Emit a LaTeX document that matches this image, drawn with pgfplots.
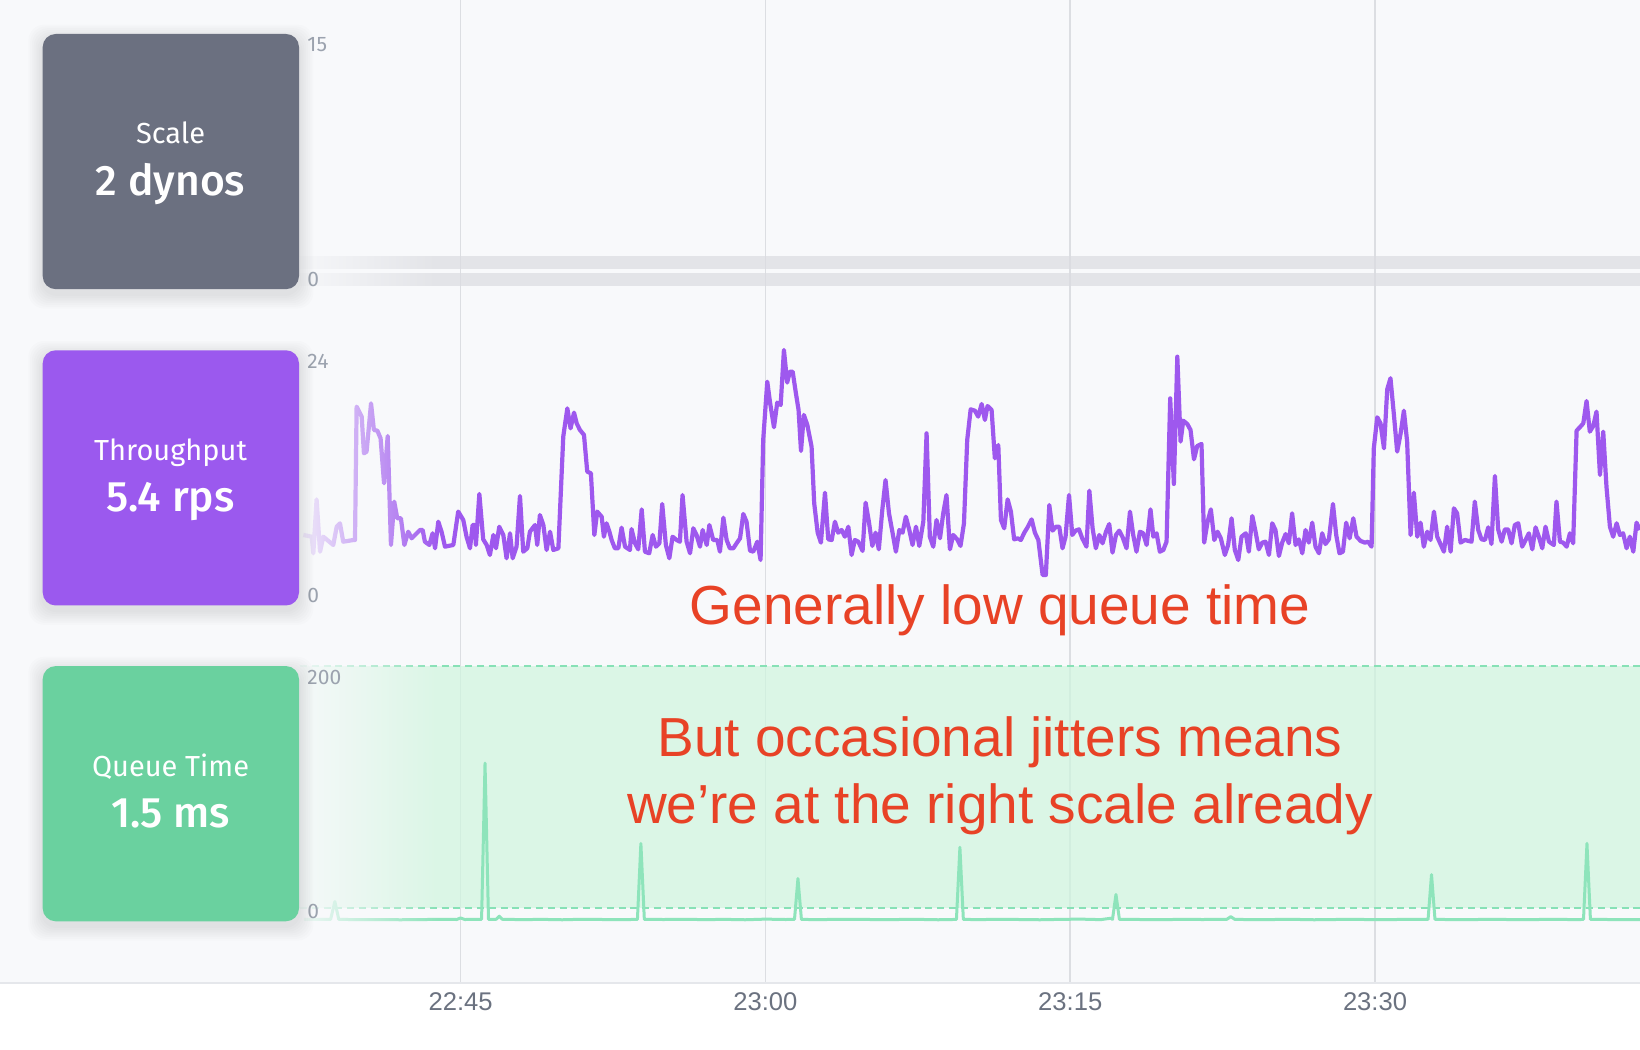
\documentclass[border=0pt]{standalone}
\usepackage{pgfplots}
\pgfplotsset{compat=1.18}
\usepackage{fontspec}
\setmainfont{Liberation Sans}
\newfontfamily\cardfont{Fira Sans}[BoldFont={Fira Sans Medium}]
\usetikzlibrary{fadings}

\definecolor{bg}{RGB}{248,249,251}
\definecolor{gridc}{RGB}{220,222,226}
\definecolor{basec}{RGB}{229,231,235}
\definecolor{tickc}{RGB}{107,114,128}
\definecolor{labc}{RGB}{156,163,175}
\definecolor{band}{RGB}{219,220,225}
\definecolor{purp}{RGB}{158,88,238}
\definecolor{qline}{RGB}{142,228,187}
\definecolor{qfill}{RGB}{207,246,222}
\definecolor{qdash}{RGB}{135,225,182}
\definecolor{cardgray}{RGB}{107,112,128}
\definecolor{cardpurp}{RGB}{155,89,238}
\definecolor{cardgreen}{RGB}{106,209,159}
\definecolor{annot}{RGB}{232,66,38}

\tikzfading[name=fadeR, left color=transparent!8, right color=transparent!100]

\pgfplotsset{
  panel/.style={scale only axis, width=820pt, height=127.6pt,
    xmin=22.33, xmax=103.04, axis lines=none, ticks=none,
    clip=false, anchor=south west},
}
\tikzset{ylab/.style={inner sep=0pt, text=labc, font=\cardfont\fontsize{10.5}{12}\selectfont}}

% card with a soft shadow: colour, bottom, top
\newcommand\card[3]{%
  \foreach \i in {1,...,8}{%
    \fill[black, opacity=0.012, rounded corners=8pt]
      ({21.35pt-\i*0.9pt},{#2-2.5pt-\i*0.9pt}) rectangle ({149.5pt+\i*0.9pt},{#3-2.5pt+\i*0.9pt});}
  \fill[#1, rounded corners=6.5pt] (21.35pt,#2) rectangle (149.5pt,#3);}

\begin{document}
\begin{tikzpicture}
\path[use as bounding box] (0,0) rectangle (820pt,525pt);
\fill[white] (0,0) rectangle (820pt,525pt);
\fill[bg] (0,33.5pt) rectangle (820pt,525pt);

% time axis with the grid
\begin{axis}[scale only axis, width=820pt, height=491.5pt,
    at={(0pt,33.5pt)}, anchor=south west,
    xmin=22.33, xmax=103.04, ymin=0, ymax=1,
    axis y line=none, axis x line*=bottom,
    x axis line style={draw=basec, line width=1pt, -},
    xtick={45,60,75,90},
    xticklabels={22:45,23:00,23:15,23:30},
    xmajorgrids, grid style={gridc, line width=0.75pt},
    major tick length=0pt,
    xticklabel style={font=\fontsize{12.8}{14}\selectfont, text=tickc,
      inner sep=0pt, anchor=north, yshift=-4.65pt}]
\end{axis}

% Scale
\begin{axis}[panel, at={(0pt,380.4pt)}, ymin=0, ymax=15]
\addplot[band, draw opacity=0.7, line width=6.35pt] coordinates {(37.09,0.585) (103.04,0.585)};
\addplot[band, draw opacity=0.7, line width=6.35pt] coordinates {(37.09,1.585) (103.04,1.585)};
\fill[bg, path fading=fadeR] (axis cs:37.09,-0.3) rectangle (axis cs:43.9,15.3);
\node[ylab, anchor=north west, yshift=-1.65pt] at (axis cs:37.44,15) {15};
\node[ylab, anchor=south west, yshift=1pt] at (axis cs:37.44,0) {0};
\end{axis}

% Throughput
\begin{axis}[panel, at={(0pt,222.25pt)}, ymin=0, ymax=24]
\addplot[purp, line width=2.1pt, line join=round] coordinates {
(37.26,6.63)(37.67,6.47)(37.75,4.91)(37.91,9.98)(38.08,5.06)(38.24,6.47)(38.73,5.69)(38.90,7.41)(39.06,7.73)(39.22,6.00)(39.72,6.16)(39.80,6.16)
(39.88,18.70)(40.13,17.76)(40.24,14.31)(40.37,14.47)(40.59,19.01)(40.73,16.51)(40.90,16.44)(41.06,15.72)(41.23,11.49)(41.41,15.94)(41.57,5.69)
(41.73,9.77)(41.88,8.20)(42.06,8.20)(42.23,5.69)(42.42,6.94)(42.59,6.32)(43.00,7.10)(43.13,7.10)(43.24,6.00)(43.46,5.69)(43.62,6.79)(43.74,5.38)
(43.90,7.88)(44.06,6.94)(44.23,5.53)(44.47,5.63)(44.64,5.69)(44.88,8.83)(45.13,8.04)(45.29,6.47)(45.46,5.38)(45.59,7.57)(45.70,7.57)(45.75,5.69)
(45.92,10.49)(46.11,6.22)(46.28,5.69)(46.44,4.75)(46.61,6.63)(46.74,5.38)(46.90,7.41)(47.10,6.63)(47.26,4.44)(47.43,6.79)(47.56,4.44)(47.75,5.53)
(47.92,10.30)(48.08,5.06)(48.28,5.38)(48.41,6.94)(48.66,7.57)(48.77,5.69)(48.90,8.51)(49.07,7.57)(49.23,5.22)(49.40,6.94)(49.56,5.22)(49.81,5.38)
(50.05,15.88)(50.25,18.54)(50.41,16.66)(50.58,18.14)(50.71,17.13)(50.87,16.51)(51.07,16.04)(51.23,12.59)(51.41,12.43)(51.58,6.63)(51.72,8.83)
(51.94,8.35)(52.05,6.47)(52.18,7.73)(52.32,6.94)(52.43,6.16)(52.59,5.38)(52.76,5.38)(52.92,7.32)(53.09,5.53)(53.33,5.22)(53.41,7.19)(53.58,5.85)
(53.74,5.28)(53.91,9.04)(54.07,5.06)(54.28,4.91)(54.45,6.63)(54.61,5.53)(54.78,5.85)(54.92,9.55)(55.10,5.69)(55.27,4.44)(55.43,6.47)(55.63,6.16)
(55.79,6.00)(55.92,10.39)(56.12,6.00)(56.29,4.91)(56.45,7.26)(56.61,6.63)(56.78,5.53)(56.91,7.10)(57.11,5.69)(57.24,7.57)(57.43,6.16)(57.63,6.16)
(57.76,5.06)(57.93,8.26)(58.09,6.16)(58.25,5.38)(58.42,5.38)(58.58,5.85)(58.75,6.32)
(58.91,8.61)(59.07,7.88)(59.24,5.16)(59.40,5.06)(59.60,6.00)(59.76,4.28)(59.89,15.57)(60.09,21.05)(60.22,19.17)(60.42,16.76)(60.58,19.08)
(60.75,18.86)(60.91,24.03)(61.07,20.96)(61.20,21.99)(61.34,21.99)(61.50,19.95)(61.63,18.39)(61.75,14.53)(61.89,17.92)(62.06,16.98)(62.27,14.94)
(62.40,9.61)(62.57,6.85)(62.73,5.91)(62.93,10.61)(63.09,6.22)(63.26,6.16)(63.42,7.88)(63.58,6.85)(63.75,7.10)(63.91,6.47)(64.08,7.41)(64.24,4.75)
(64.40,6.16)(64.57,6.00)(64.78,5.13)(64.93,9.67)(65.09,7.88)(65.26,5.60)(65.42,6.85)(65.58,5.28)(65.75,8.98)(65.91,11.80)(66.08,8.67)(66.26,6.79)
(66.42,5.06)(66.59,7.10)(66.75,6.85)(66.91,8.35)(67.08,7.10)(67.24,5.69)(67.41,7.41)(67.57,5.60)(67.77,7.88)(67.93,16.19)(68.09,6.47)(68.26,5.53)
(68.42,8.04)(68.59,6.32)(68.75,8.67)(68.91,10.39)(69.08,5.28)(69.24,6.63)(69.44,6.22)(69.60,5.60)(69.77,7.73)(69.93,15.57)(70.10,18.45)(70.31,18.32)
(70.47,17.76)(70.64,18.95)(70.80,17.45)(70.93,18.76)(71.13,18.39)(71.29,13.84)(71.46,15.09)(71.59,8.04)(71.75,7.26)(71.92,9.98)(72.08,8.83)
(72.24,6.22)(72.41,6.32)(72.57,6.16)(72.74,6.85)(72.90,7.35)(73.10,8.10)(73.26,6.85)(73.43,6.16)(73.64,2.87)(73.80,2.87)(73.97,9.45)(74.13,7.04)
(74.30,7.41)(74.46,7.41)(74.62,5.38)(74.77,6.47)(74.94,10.39)(75.10,6.63)(75.26,7.04)(75.43,7.16)(75.59,6.32)(75.80,5.53)(75.94,10.80)(76.10,7.26)
(76.26,5.38)(76.43,6.63)(76.59,5.85)(76.76,6.94)(76.92,7.66)(77.08,4.97)(77.25,6.63)(77.41,7.04)(77.58,6.41)(77.77,5.38)(77.94,8.83)(78.10,6.63)
(78.26,5.06)(78.43,6.94)(78.59,6.79)(78.76,5.69)(78.95,9.04)(79.09,6.47)(79.25,6.79)(79.41,5.06)(79.58,5.22)(79.74,6.00)
(79.92,19.48)(80.10,11.43)(80.27,23.40)(80.43,15.41)(80.56,17.38)(80.76,17.07)(80.92,16.51)(81.09,13.75)(81.25,15.00)(81.46,15.19)(81.59,5.91)
(81.76,7.88)(81.92,9.04)(82.09,6.16)(82.25,6.94)(82.41,6.32)(82.61,4.75)(82.77,5.69)(82.94,8.20)(83.10,5.22)(83.27,4.28)(83.43,6.47)(83.64,6.79)
(83.79,5.06)(83.96,8.42)(84.12,6.94)(84.28,5.28)(84.45,5.91)(84.61,6.00)(84.78,4.75)(84.94,7.73)(85.10,7.10)(85.27,4.66)(85.43,5.91)(85.60,6.72)
(85.76,5.85)(85.92,8.67)(86.09,5.69)(86.25,6.22)(86.42,4.91)(86.58,7.10)(86.74,5.91)(86.91,7.79)(87.07,5.53)(87.24,4.91)(87.40,6.79)(87.56,5.78)
(87.73,6.22)(87.93,9.55)(88.09,6.63)(88.25,4.91)(88.42,5.06)(88.58,7.79)(88.75,6.32)(88.93,8.20)(89.09,6.47)(89.29,6.07)(89.50,5.91)(89.66,6.00)
(89.83,5.53)(89.94,14.78)(90.11,17.70)(90.27,17.13)(90.44,14.78)(90.60,20.33)(90.76,21.37)(90.93,17.92)(91.09,14.47)(91.26,16.19)(91.42,18.32)
(91.58,15.41)(91.75,6.63)(91.91,10.61)(92.08,6.47)(92.24,7.79)(92.40,5.53)(92.57,6.94)(92.73,6.16)(92.90,8.83)(93.06,6.47)(93.22,5.78)(93.39,5.06)
(93.55,7.41)(93.72,5.06)(93.88,9.14)(94.04,8.67)(94.21,5.91)(94.42,6.16)(94.75,6.00)(94.91,9.77)(95.08,7.10)(95.24,6.22)(95.41,6.16)(95.57,7.35)
(95.73,5.78)(95.90,12.18)(96.06,7.16)(96.23,6.00)(96.39,7.16)(96.55,7.16)(96.72,5.85)(96.88,7.57)(97.05,7.73)(97.24,5.53)(97.41,6.16)(97.57,6.79)
(97.74,5.28)(97.90,7.35)(98.06,6.47)(98.23,5.38)(98.39,7.41)(98.56,6.00)(98.80,5.69)(98.93,9.77)(99.10,6.00)(99.26,5.91)(99.43,5.53)(99.59,6.79)
(99.75,5.85)(99.92,16.44)(100.08,16.76)(100.25,17.13)(100.41,19.23)(100.57,16.35)(100.74,16.88)(100.90,18.23)(101.07,12.27)(101.23,16.35)
(101.39,11.18)(101.56,7.41)(101.72,6.47)(101.89,7.73)(102.05,6.63)(102.21,6.79)(102.38,5.38)(102.54,6.47)(102.71,5.06)(102.87,7.79)(103.03,7.10)
};
\fill[bg, path fading=fadeR] (axis cs:37.09,-0.5) rectangle (axis cs:43.9,24.8);
\node[ylab, anchor=north west, yshift=-1.65pt] at (axis cs:37.44,24) {24};
\node[ylab, anchor=south west, yshift=1pt] at (axis cs:37.44,0) {0};
\end{axis}

% Queue time
\begin{axis}[panel, at={(0pt,64.35pt)}, ymin=0, ymax=200]
\addplot[draw=none, fill=qfill, fill opacity=0.7] coordinates {(37.09,10.4) (103.04,10.4) (103.04,200) (37.09,200)} -- cycle;
\addplot[qdash, line width=0.85pt, dash pattern=on 3.5pt off 2.4pt] coordinates {(37.09,200) (103.04,200)};
\addplot[qdash, line width=0.85pt, dash pattern=on 3.5pt off 2.4pt] coordinates {(37.09,10.4) (103.04,10.4)};
\addplot[qline, line width=1.5pt, line join=round] coordinates {
(37.30,1.5)(38.60,1.5)(38.81,15.5)(39.00,1.5)(40.0,1.3)(41.0,1.4)(42.0,1.2)(43.0,1.3)(44.0,1.6)(44.8,1.4)(45.0,2.6)(45.2,1.4)
(46.03,1.5)(46.20,124)(46.37,1.5)(46.75,1.6)(46.90,4.0)(47.05,1.6)(48.0,1.3)(49.0,1.5)(50.0,1.2)(51.0,1.6)(52.0,1.4)(53.0,1.3)
(53.70,1.5)(53.87,61)(54.04,1.5)(55.0,1.4)(56.0,1.6)(57.0,1.3)(58.0,1.5)(59.0,1.2)(60.0,1.7)(61.0,1.4)
(61.43,1.5)(61.60,33.5)(61.77,1.5)(62.5,1.3)(63.5,1.5)(64.5,1.6)(65.5,1.3)(66.5,1.4)(67.5,1.5)(68.5,1.2)(69.2,1.4)
(69.40,1.5)(69.57,58)(69.74,1.5)(70.5,1.3)(71.5,1.6)(72.5,1.4)(73.5,1.2)(74.5,1.5)(75.5,1.7)(76.5,1.3)(77.0,2.4)
(77.08,1.5)(77.25,21)(77.42,1.5)(78.5,1.4)(79.5,1.3)(80.5,1.5)(81.5,1.4)(82.7,1.5)(82.9,3.6)(83.1,1.5)(84.0,1.3)
(85.0,1.4)(86.0,1.5)(87.0,1.2)(88.0,1.4)(89.0,1.5)(90.0,1.3)(91.0,1.4)(92.0,1.5)
(92.61,1.5)(92.78,36.6)(92.95,1.5)(94.0,1.3)(95.0,1.4)(96.0,1.5)(97.0,1.3)(98.0,1.4)(99.0,1.5)(100.0,1.3)
(100.26,1.5)(100.43,61)(100.60,1.5)(101.5,1.4)(102.3,1.3)(103.03,1.4)
};
\fill[bg, path fading=fadeR] (axis cs:37.09,-3) rectangle (axis cs:43.9,204);
\node[ylab, anchor=north west, yshift=-1.65pt] at (axis cs:37.44,200) {200};
\node[ylab, anchor=south west, yshift=1pt] at (axis cs:37.44,0) {0};
\end{axis}

% cards
\card{cardgray}{380.4pt}{508pt}
\card{cardpurp}{222.25pt}{349.85pt}
\card{cardgreen}{64.35pt}{191.95pt}
\tikzset{ctitle/.style={anchor=base, text=white, inner sep=0pt, font=\cardfont\fontsize{14.5}{16}\selectfont},
  cvalue/.style={anchor=base, text=white, inner sep=0pt, font=\cardfont\bfseries\fontsize{21.3}{24}\selectfont}}
\node[ctitle] at (85.3pt,453pt) {Scale};
\node[cvalue] at (85.3pt,427pt) {2 dynos};
\node[ctitle] at (85.3pt,294.85pt) {Throughput};
\node[cvalue] at (85.3pt,269.1pt) {5.4 rps};
\node[ctitle] at (85.3pt,136.95pt) {Queue Time};
\node[cvalue] at (85.3pt,111.2pt) {1.5 ms};

% annotations
\tikzset{ann/.style={anchor=base, text=annot, inner sep=0pt, font=\fontsize{27.5}{30}\selectfont}}
\node[ann] at (500pt,212.5pt) {Generally low queue time};
\node[ann] at (500pt,146.65pt) {But occasional jitters means};
\node[ann] at (500pt,113.35pt) {we’re at the right scale already};
\end{tikzpicture}
\end{document}
